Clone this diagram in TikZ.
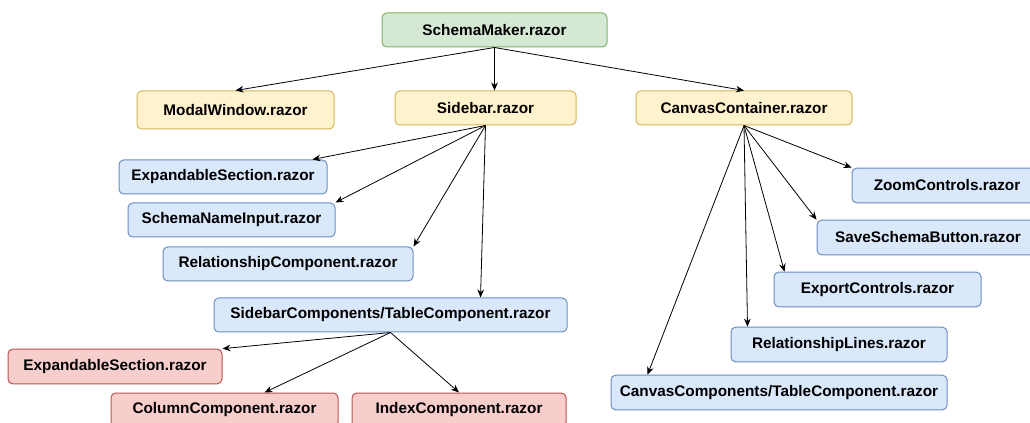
\documentclass[tikz,border=0pt]{standalone}
\usepackage{fontspec}
\setmainfont{Liberation Sans}
\usetikzlibrary{arrows.meta}
\definecolor{rootfill}{HTML}{D5E8D4}
\definecolor{rootline}{HTML}{82B366}
\definecolor{pagefill}{HTML}{FFF2CC}
\definecolor{pageline}{HTML}{D6B656}
\definecolor{partfill}{HTML}{DAE8FC}
\definecolor{partline}{HTML}{6C8EBF}
\definecolor{subfill}{HTML}{F8CECC}
\definecolor{subline}{HTML}{B85450}
\tikzstyle{component}=[draw, rounded corners=3.5pt, line width=0.75pt, inner sep=0pt, minimum height=25.5pt, font=\bfseries\fontsize{11.5}{13}\selectfont]
\tikzstyle{root component}=[component, fill=rootfill, draw=rootline]
\tikzstyle{page component}=[component, fill=pagefill, draw=pageline]
\tikzstyle{part component}=[component, fill=partfill, draw=partline]
\tikzstyle{sub component}=[component, fill=subfill, draw=subline]
\tikzstyle{uses}=[-{Stealth[length=6pt, width=5pt]}, line width=0.6pt]

\begin{document}
\begin{tikzpicture}[x=0.75pt, y=-0.75pt]
          \useasboundingbox (0, 0) rectangle (1030, 423);
          \node[root component, minimum width=168.75pt] (schema_maker) at (494.5, 30) {SchemaMaker.razor};
          \node[page component, minimum width=147.75pt, minimum height=28.5pt] (modal_window) at (235.5, 110) {ModalWindow.razor};
          \node[page component, minimum width=135.75pt] (sidebar) at (485.5, 108) {Sidebar.razor};
          \node[page component, minimum width=162pt] (canvas_container) at (744, 108) {CanvasContainer.razor};

          \node[part component, minimum width=156pt] (sb_expandable) at (223, 177) {ExpandableSection.razor};
          \node[part component, minimum width=155.25pt] (name_input) at (231.5, 220) {SchemaNameInput.razor};
          \node[part component, minimum width=187.5pt] (relationship) at (288, 264) {RelationshipComponent.razor};
          \node[part component, minimum width=264.75pt] (sb_table) at (390.5, 315) {SidebarComponents/TableComponent.razor};

          \node[sub component, minimum width=160.5pt, minimum height=26pt] (tbl_expandable) at (115, 366.5) {ExpandableSection.razor};
          \node[sub component, minimum width=170.25pt] (column) at (224.5, 410) {ColumnComponent.razor};
          \node[sub component, minimum width=160.5pt] (index) at (459, 410) {IndexComponent.razor};

          \node[part component, minimum width=142.5pt, minimum height=26pt] (zoom) at (947, 185.5) {ZoomControls.razor};
          \node[part component, minimum width=166.5pt, minimum height=26pt] (save_button) at (928, 237.5) {SaveSchemaButton.razor};
          \node[part component, minimum width=155.25pt, minimum height=26pt] (export) at (877.5, 289.5) {ExportControls.razor};
          \node[part component, minimum width=162pt, minimum height=26pt] (rel_lines) at (839, 344.5) {RelationshipLines.razor};
          \node[part component, minimum width=252pt, minimum height=26pt] (cv_table) at (779, 392.5) {CanvasComponents/TableComponent.razor};

          % top level
          \draw[uses] (schema_maker.south) -- (modal_window.north);
          \draw[uses] (schema_maker.south) -- ([shift={(9, 0)}]sidebar.north);
          \draw[uses] (schema_maker.south) -- (canvas_container.north);

          % sidebar
          \draw[uses] (sidebar.south) -- ([shift={(-15, 0)}]sb_expandable.north east);
          \draw[uses] (sidebar.south) -- (name_input.north east);
          \draw[uses] (sidebar.south) -- (relationship.north east);
          \draw[uses] (sidebar.south) -- ([shift={(90, 0)}]sb_table.north);

          % table component of the sidebar
          \draw[uses] (sb_table.south) -- (tbl_expandable.north east);
          \draw[uses] (sb_table.south) -- ([shift={(40, 0)}]column.north);
          \draw[uses] (sb_table.south) -- (index.north);

          % canvas
          \draw[uses] (canvas_container.south) -- (zoom.north west);
          \draw[uses] (canvas_container.south) -- (save_button.north west);
          \draw[uses] (canvas_container.south) -- ([shift={(11, 0)}]export.north west);
          \draw[uses] (canvas_container.south) -- ([shift={(17, 0)}]rel_lines.north west);
          \draw[uses] (canvas_container.south) -- ([shift={(37, 0)}]cv_table.north west);
        \end{tikzpicture}
\end{document}
